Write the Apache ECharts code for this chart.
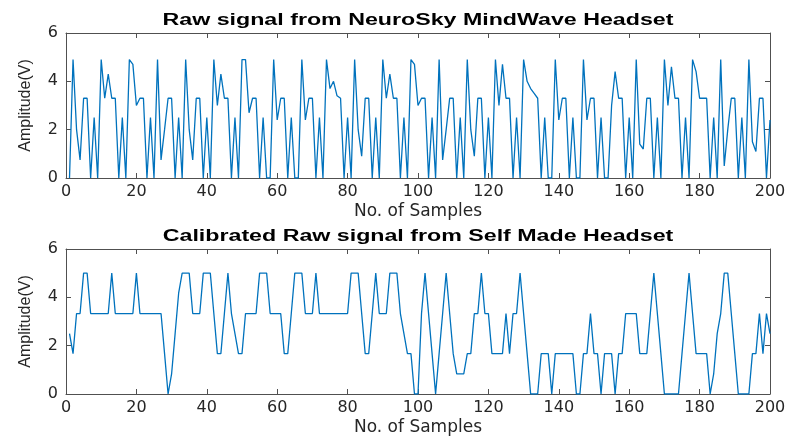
<!DOCTYPE html>
<html>
<head>
<meta charset="utf-8">
<script src="https://cdn.jsdelivr.net/npm/echarts@6/dist/echarts.min.js"></script>
<style>
  html, body { margin: 0; padding: 0; background: #fff; }
  #chart { width: 789px; height: 439px; }
</style>
</head>
<body>
<div id="chart"></div>
<script>
// sample values, sample number = index + 1
var neuroSky = [
  0, 4.9, 2.0, 0.75, 3.3, 3.3, 0, 2.5, 0, 4.9,
  3.3, 4.3, 3.3, 3.3, 0, 2.5, 0, 4.9, 4.7, 3.0,
  3.3, 3.3, 0, 2.5, 0, 4.9, 0.75, 2.0, 3.3, 3.3,
  0, 2.5, 0, 4.9, 2.0, 0.75, 3.3, 3.3, 0, 2.5,
  0, 4.9, 3.0, 4.3, 3.3, 3.3, 0, 2.5, 0, 4.9,
  4.9, 2.7, 3.3, 3.3, 0, 2.5, 0, 0, 4.9, 2.4,
  3.3, 3.3, 0, 2.5, 0, 0, 4.9, 2.4, 3.3, 3.3,
  0, 2.5, 0, 4.9, 3.7, 4.0, 3.4, 3.3, 0, 2.5,
  0, 4.9, 2.0, 0.9, 3.3, 3.3, 0, 2.5, 0, 4.9,
  3.3, 4.3, 3.3, 3.3, 0, 2.5, 0, 4.9, 4.7, 3.0,
  3.3, 3.3, 0, 2.5, 0, 4.9, 0.75, 2.0, 3.3, 3.3,
  0, 2.5, 0, 4.9, 2.0, 0.9, 3.3, 3.3, 0, 2.5,
  0, 4.9, 3.0, 4.7, 3.3, 3.3, 0, 2.5, 0, 4.9,
  4.0, 3.7, 3.5, 3.3, 0, 2.5, 0, 0, 4.9, 2.4,
  3.3, 3.3, 0, 2.5, 0, 0, 4.9, 2.4, 3.3, 3.3,
  0, 2.5, 0, 0, 3.0, 4.4, 3.3, 3.3, 0, 2.5,
  0, 4.9, 1.4, 1.2, 3.3, 3.3, 0, 2.5, 0, 4.9,
  3.0, 4.6, 3.3, 3.3, 0, 2.5, 0, 4.9, 4.4, 3.3,
  3.3, 3.3, 0, 2.5, 0, 4.9, 0.5, 2.0, 3.3, 3.3,
  0, 2.5, 0, 4.9, 1.5, 1.1, 3.3, 3.3, 0, 2.4
];
var selfMade = [
  2.5, 1.67, 3.33, 3.33, 5, 5, 3.33, 3.33, 3.33, 3.33,
  3.33, 3.33, 5, 3.33, 3.33, 3.33, 3.33, 3.33, 3.33, 5,
  3.33, 3.33, 3.33, 3.33, 3.33, 3.33, 3.33, 1.67, 0, 0.83,
  2.5, 4.17, 5, 5, 5, 3.33, 3.33, 3.33, 5, 5,
  5, 3.33, 1.67, 1.67, 3.33, 5, 3.33, 2.5, 1.67, 1.67,
  3.33, 3.33, 3.33, 3.33, 5, 5, 5, 3.33, 3.33, 3.33,
  3.33, 1.67, 1.67, 3.33, 5, 5, 5, 3.33, 3.33, 3.33,
  5, 3.33, 3.33, 3.33, 3.33, 3.33, 3.33, 3.33, 3.33, 3.33,
  5, 5, 5, 3.33, 1.67, 1.67, 3.33, 5, 3.33, 3.33,
  3.33, 5, 5, 5, 3.33, 2.5, 1.67, 1.67, 0, 0,
  3.33, 5, 3.33, 1.67, 0, 1.67, 3.33, 5, 3.33, 1.67,
  0.83, 0.83, 0.83, 1.67, 1.67, 3.33, 3.33, 5, 3.33, 3.33,
  1.67, 1.67, 1.67, 1.67, 3.33, 1.67, 3.33, 3.33, 5, 3.33,
  1.67, 0, 0, 0, 1.67, 1.67, 1.67, 0, 1.67, 1.67,
  1.67, 1.67, 1.67, 1.67, 0, 0, 1.67, 1.67, 3.33, 1.67,
  1.67, 0, 1.67, 1.67, 1.67, 0, 1.67, 1.67, 3.33, 3.33,
  3.33, 3.33, 1.67, 1.67, 1.67, 3.33, 5, 3.33, 1.67, 0,
  0, 0, 0, 0, 1.67, 3.33, 5, 3.33, 1.67, 1.67,
  1.67, 1.67, 0, 0.83, 2.5, 3.33, 5, 5, 3.33, 1.67,
  0, 0, 0, 0, 1.67, 1.67, 3.33, 1.67, 3.33, 2.5
];
var titles = ['Raw signal from NeuroSky MindWave Headset', 'Calibrated Raw signal from Self Made Headset'];
var xName = 'No. of Samples';
var yName = 'Amplitude(V)';

var chart = echarts.init(document.getElementById('chart'));
var font = 'Liberation Sans, Arial, sans-serif';
var wideFont = 'DejaVu Sans, sans-serif';
var lineBlue = '#0072BD';
var axisGray = '#505050';
var textGray = '#262626';

function toPairs(arr) {
    return arr.map(function (v, i) { return [i + 1, v]; });
}

function xAxes(gi) {
    return [
        {
            gridIndex: gi, type: 'value', min: 0, max: 200, interval: 20,
            position: 'bottom',
            name: xName, nameLocation: 'middle', nameGap: 25,
            nameTextStyle: { fontFamily: wideFont, fontSize: 17, color: textGray },
            axisLine: { onZero: false, lineStyle: { color: axisGray, width: 1 } },
            axisTick: { inside: true, length: 5, lineStyle: { color: axisGray } },
            axisLabel: { fontFamily: wideFont, fontSize: 16, color: textGray, margin: 6 },
            splitLine: { show: false }
        },
        {
            gridIndex: gi, type: 'value', min: 0, max: 200, interval: 20,
            position: 'top',
            axisLine: { onZero: false, lineStyle: { color: axisGray, width: 1 } },
            axisTick: { inside: true, length: 5, lineStyle: { color: axisGray } },
            axisLabel: { show: false },
            splitLine: { show: false }
        }
    ];
}

function yAxes(gi) {
    return [
        {
            gridIndex: gi, type: 'value', min: 0, max: 6, interval: 2,
            position: 'left',
            name: yName, nameLocation: 'middle', nameGap: 32,
            nameTextStyle: { fontFamily: font, fontSize: 16, color: textGray },
            axisLine: { show: true, onZero: false, lineStyle: { color: axisGray, width: 1 } },
            axisTick: { show: true, inside: true, length: 5, lineStyle: { color: axisGray } },
            axisLabel: { fontFamily: wideFont, fontSize: 16, color: textGray, margin: 8 },
            splitLine: { show: false }
        },
        {
            gridIndex: gi, type: 'value', min: 0, max: 6, interval: 2,
            position: 'right',
            axisLine: { show: true, onZero: false, lineStyle: { color: axisGray, width: 1 } },
            axisTick: { show: true, inside: true, length: 5, lineStyle: { color: axisGray } },
            axisLabel: { show: false },
            splitLine: { show: false }
        }
    ];
}

// titles drawn as graphic text so they can be widened like the source picture
function titleText(text, y) {
    return {
        type: 'text', x: 418, y: y, scaleX: 1.45,
        style: {
            text: text, fontFamily: font, fontSize: 16, fontWeight: 'bold',
            fill: '#000', align: 'center', verticalAlign: 'middle'
        }
    };
}

var option = {
    animation: false,
    backgroundColor: '#fff',
    graphic: [titleText(titles[0], 21), titleText(titles[1], 237)],
    grid: [
        { left: 66, width: 704, top: 33, height: 145 },
        { left: 66, width: 704, top: 249, height: 145 }
    ],
    xAxis: xAxes(0).concat(xAxes(1)),
    yAxis: yAxes(0).concat(yAxes(1)),
    series: [
        {
            type: 'line', xAxisIndex: 0, yAxisIndex: 0,
            data: toPairs(neuroSky),
            showSymbol: false,
            lineStyle: { color: lineBlue, width: 1.3 }
        },
        {
            type: 'line', xAxisIndex: 2, yAxisIndex: 2,
            data: toPairs(selfMade),
            showSymbol: false,
            lineStyle: { color: lineBlue, width: 1.3 }
        }
    ]
};
chart.setOption(option);
</script>
</body>
</html>
